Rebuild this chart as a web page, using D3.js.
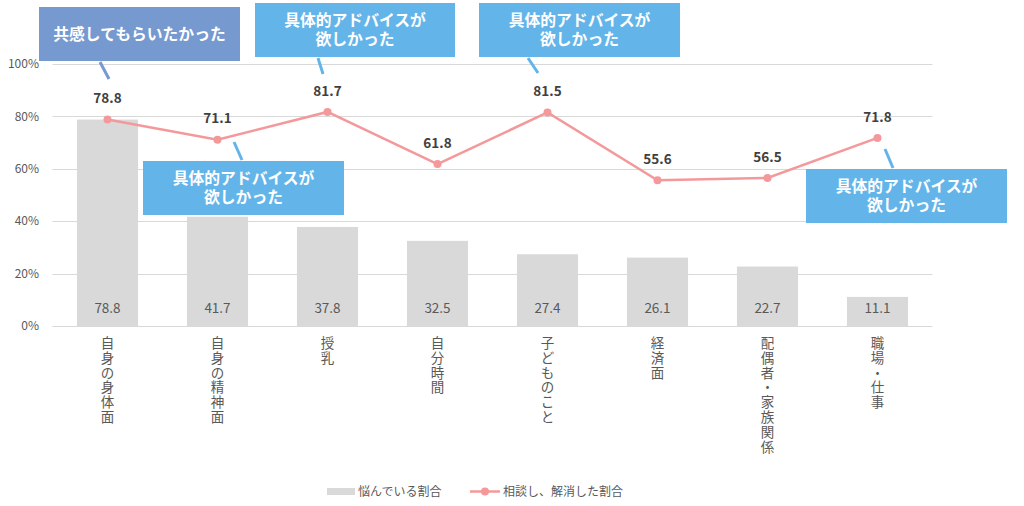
<!DOCTYPE html>
<html><head><meta charset="utf-8">
<script src="https://cdn.jsdelivr.net/npm/d3@7"></script>
<style>
body{margin:0;background:#fff;}
svg text{font-family:"Noto Sans CJK JP","Noto Sans",sans-serif;}
</style></head>
<body><svg id="c" width="1024" height="506"></svg>
<script>
const categories = ["自身の身体面","自身の精神面","授乳","自分時間","子どものこと","経済面","配偶者・家族関係","職場・仕事"];
const worryValues = [78.8,41.7,37.8,32.5,27.4,26.1,22.7,11.1];
const solvedValues = [78.8,71.1,81.7,61.8,81.5,55.6,56.5,71.8];
const yTicks = [0,20,40,60,80,100];
const seriesNames = ["悩んでいる割合","相談し、解消した割合"];
const callouts = [
  {i:0, lines:["共感してもらいたかった"], kind:"empathy"},
  {i:1, lines:["具体的アドバイスが","欲しかった"], kind:"advice"},
  {i:2, lines:["具体的アドバイスが","欲しかった"], kind:"advice"},
  {i:4, lines:["具体的アドバイスが","欲しかった"], kind:"advice"},
  {i:7, lines:["具体的アドバイスが","欲しかった"], kind:"advice"}
];
// layout (positions kept separate from data)
const calloutBoxes = [
  {x:39,y:7,w:201,h:54, lx1:100,ly1:62,lx2:109,ly2:79},
  {x:143,y:161,w:201,h:54, lx1:234,ly1:142,lx2:242,ly2:160},
  {x:255,y:3,w:200,h:54, lx1:318,ly1:58,lx2:323,ly2:74},
  {x:479,y:3,w:201,h:54, lx1:528,ly1:58,lx2:538,ly2:73},
  {x:806,y:169,w:201,h:54, lx1:885,ly1:149,lx2:893,ly2:168}
];
const colors = {empathy:"#7699d0", advice:"#63b5e9"};

const svg = d3.select("#c");
const x = d3.scaleBand().domain(categories).range([52.5,932.5]).paddingInner(0.445).paddingOuter(0.2225);
const y = d3.scaleLinear().domain([0,100]).range([326,64]);

// gridlines
svg.append("g").selectAll("line").data(yTicks).join("line")
  .attr("x1",52.5).attr("x2",932.5)
  .attr("y1",d=>Math.round(y(d))+0.5).attr("y2",d=>Math.round(y(d))+0.5)
  .attr("stroke","#d9d9d9").attr("stroke-width",1);
svg.append("g").selectAll("text").data(yTicks).join("text")
  .attr("x",39).attr("y",d=>y(d)).attr("dy","0.35em").attr("text-anchor","end")
  .attr("font-size",12).attr("fill","#595959").text(d=>d+"%");

// bars
svg.append("g").selectAll("rect").data(worryValues).join("rect")
  .attr("x",(d,i)=>x(categories[i])).attr("width",x.bandwidth())
  .attr("y",d=>y(d)).attr("height",d=>y(0)-y(d)).attr("fill","#d9d9d9");
svg.append("g").selectAll("text").data(worryValues).join("text")
  .attr("x",(d,i)=>x(categories[i])+x.bandwidth()/2).attr("y",308).attr("dy","0.35em")
  .attr("text-anchor","middle").attr("font-size",13.5).attr("fill","#595959")
  .text(d=>d.toFixed(1));

// x labels vertical: one character per text element
const chars = [];
categories.forEach(c=>[...c].forEach((ch,k)=>chars.push({c,ch,k})));
svg.append("g").selectAll("text").data(chars).join("text")
  .attr("x",d=>x(d.c)+x.bandwidth()/2).attr("y",d=>343+d.k*14.9).attr("dy","0.35em")
  .attr("text-anchor","middle").attr("font-size",13.5).attr("fill","#595959")
  .text(d=>d.ch);

// line
const cx = (i)=>x(categories[i])+x.bandwidth()/2;
const line = d3.line().x((d,i)=>cx(i)).y(d=>y(d));
svg.append("path").datum(solvedValues).attr("d",line).attr("fill","none")
  .attr("stroke","#f4999b").attr("stroke-width",2.5);
svg.append("g").selectAll("circle").data(solvedValues).join("circle")
  .attr("cx",(d,i)=>cx(i)).attr("cy",d=>y(d)).attr("r",4).attr("fill","#f4999b");
svg.append("g").selectAll("text").data(solvedValues).join("text")
  .attr("x",(d,i)=>cx(i)).attr("y",d=>y(d)-21).attr("dy","0.35em")
  .attr("text-anchor","middle").attr("font-size",13.5).attr("font-weight","bold").attr("fill","#404040")
  .text(d=>d.toFixed(1));

// callouts
const cg = svg.append("g");
callouts.forEach((c,k)=>{
  const b = calloutBoxes[k];
  const col = colors[c.kind];
  cg.append("line").attr("x1",b.lx1).attr("y1",b.ly1).attr("x2",b.lx2).attr("y2",b.ly2)
    .attr("stroke",col).attr("stroke-width",3);
  cg.append("rect").attr("x",b.x).attr("y",b.y).attr("width",b.w).attr("height",b.h).attr("fill",col);
  const n = c.lines.length;
  c.lines.forEach((ln,j)=>{
    cg.append("text").attr("x",b.x+b.w/2).attr("y",b.y+b.h/2+(j-(n-1)/2)*18.3).attr("dy","0.35em")
      .attr("text-anchor","middle").attr("font-size",15.8).attr("font-weight","bold").attr("fill","#fff").text(ln);
  });
});

// legend
const lg = svg.append("g");
lg.append("rect").attr("x",327).attr("y",488).attr("width",28).attr("height",7).attr("fill","#d9d9d9");
lg.append("text").attr("x",358).attr("y",491.5).attr("dy","0.35em").attr("font-size",12).attr("fill","#595959").text(seriesNames[0]);
lg.append("line").attr("x1",470).attr("x2",500).attr("y1",491.5).attr("y2",491.5).attr("stroke","#f4999b").attr("stroke-width",2.5);
lg.append("circle").attr("cx",485).attr("cy",491.5).attr("r",4).attr("fill","#f4999b");
lg.append("text").attr("x",503).attr("y",491.5).attr("dy","0.35em").attr("font-size",12).attr("fill","#595959").text(seriesNames[1]);
</script></body></html>
